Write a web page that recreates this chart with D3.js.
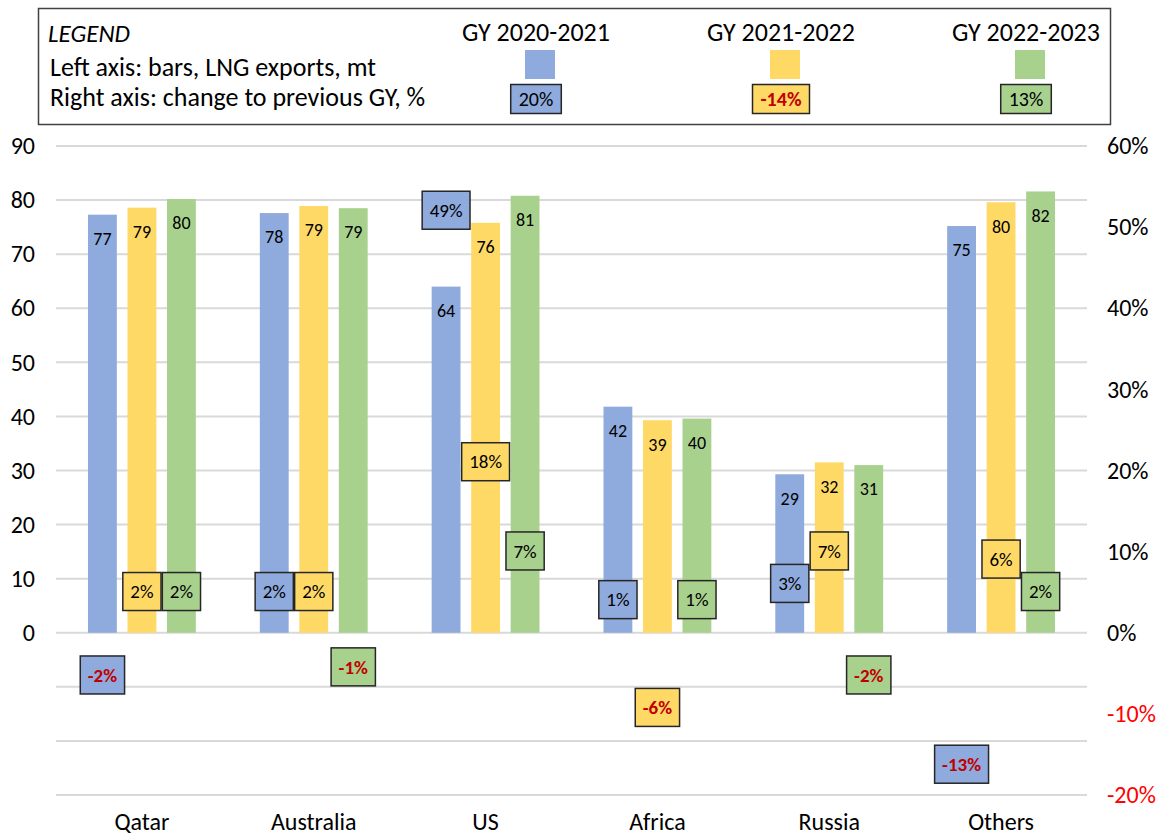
<!DOCTYPE html>
<html>
<head>
<meta charset="utf-8">
<script src="https://cdn.jsdelivr.net/npm/d3@7"></script>
<style>
  body { margin: 0; background: #fff; }
  svg { font-family: Carlito, Lato, "Open Sans", sans-serif; }
</style>
</head>
<body>
<div id="app"></div>
<script>
// categories and series
const categories = ['Qatar', 'Australia', 'US', 'Africa', 'Russia', 'Others'];
const series = ['GY 2020-2021', 'GY 2021-2022', 'GY 2022-2023'];
const colors = ['#8faadc', '#ffd966', '#a9d18e'];

// LNG exports, mt (left axis)
const exports2021 = [77.3, 77.6, 64.0, 41.8, 29.3, 75.2];
const exports2122 = [78.6, 78.9, 75.8, 39.3, 31.5, 79.6];
const exports2223 = [80.2, 78.5, 80.8, 39.6, 31.0, 81.6];

// change to previous GY, % (right axis)
const change2021 = [-2, 2, 49, 1, 3, -13];
const change2122 = [2, 2, 18, -6, 7, 6];
const change2223 = [2, -1, 7, 1, -2, 2];

// legend sample labels
const legendSample = [20, -14, 13];

const leftTicks = [0, 10, 20, 30, 40, 50, 60, 70, 80, 90];
const gridTicks = [-30, -20, -10, 0, 10, 20, 30, 40, 50, 60, 70, 80, 90];
const rightTicks = [-20, -10, 0, 10, 20, 30, 40, 50, 60];

const exportsBySeries = [exports2021, exports2122, exports2223];
const changeBySeries = [change2021, change2122, change2223];

const W = 1164, H = 836;
const plot = { left: 56, right: 1087, top: 146, bottom: 795 };

const svg = d3.select('#app')
    .append('svg')
    .attr('width', W)
    .attr('height', H);

const x0 = d3.scaleBand()
    .domain(categories)
    .range([plot.left, plot.right]);

const x1 = d3.scaleBand()
    .domain(series)
    .range([0, x0.bandwidth()])
    .paddingInner(0.27)
    .paddingOuter(0.81);

const yL = d3.scaleLinear().domain([-30, 90]).range([plot.bottom, plot.top]);
const yR = d3.scaleLinear().domain([-20, 60]).range([plot.bottom, plot.top]);

// gridlines
svg.append('g')
    .selectAll('line')
    .data(gridTicks)
    .join('line')
    .attr('x1', plot.left)
    .attr('x2', plot.right)
    .attr('y1', d => yL(d))
    .attr('y2', d => yL(d))
    .attr('stroke', '#d9d9d9')
    .attr('stroke-width', 2);

// left axis
const leftAxis = svg.append('g')
    .attr('transform', `translate(${plot.left - 21},0)`)
    .call(d3.axisLeft(yL).tickValues(leftTicks).tickSize(0).tickPadding(0));
leftAxis.select('.domain').remove();
leftAxis.selectAll('text')
    .attr('font-size', 24)
    .attr('font-family', 'Carlito, Lato, sans-serif')
    .attr('fill', '#000');

// right axis
const rightAxis = svg.append('g')
    .attr('transform', `translate(${plot.right + 20},0)`)
    .call(d3.axisRight(yR).tickValues(rightTicks).tickSize(0).tickPadding(0)
        .tickFormat(d => d + '%'));
rightAxis.select('.domain').remove();
rightAxis.selectAll('text')
    .attr('font-size', 24)
    .attr('font-family', 'Carlito, Lato, sans-serif')
    .attr('fill', d => d < 0 ? '#ff0000' : '#000');

// category labels
svg.append('g')
    .selectAll('text')
    .data(categories)
    .join('text')
    .attr('x', d => x0(d) + x0.bandwidth() / 2)
    .attr('y', 830)
    .attr('text-anchor', 'middle')
    .attr('font-size', 24)
    .text(d => d);

// flatten data
const rows = [];
categories.forEach((c, i) => {
    series.forEach((s, j) => {
        rows.push({
            cat: c,
            ser: s,
            color: colors[j],
            value: exportsBySeries[j][i],
            change: changeBySeries[j][i]
        });
    });
});

const bars = svg.append('g');

bars.selectAll('rect')
    .data(rows)
    .join('rect')
    .attr('x', d => x0(d.cat) + x1(d.ser))
    .attr('y', d => yL(d.value))
    .attr('width', x1.bandwidth())
    .attr('height', d => yL(0) - yL(d.value))
    .attr('fill', d => d.color);

bars.selectAll('text')
    .data(rows)
    .join('text')
    .attr('x', d => x0(d.cat) + x1(d.ser) + x1.bandwidth() / 2)
    .attr('y', d => yL(d.value) + 24)
    .attr('dy', '0.35em')
    .attr('text-anchor', 'middle')
    .attr('font-size', 18)
    .attr('fill', '#000')
    .text(d => Math.round(d.value));

// change labels in boxes
function boxLabel(g, cx, cy, value, color, h, fs, pad) {
    const t = g.append('text')
        .attr('x', cx)
        .attr('y', cy)
        .attr('dy', '0.35em')
        .attr('text-anchor', 'middle')
        .attr('font-size', fs)
        .attr('font-weight', value < 0 ? 'bold' : 'normal')
        .attr('fill', value < 0 ? '#c00000' : '#000')
        .text(value + '%');
    const w = t.node().getComputedTextLength() + pad;
    g.insert('rect', 'text')
        .attr('x', cx - w / 2)
        .attr('y', cy - h / 2)
        .attr('width', w)
        .attr('height', h)
        .attr('fill', color)
        .attr('stroke', '#262626')
        .attr('stroke-width', 1.5);
}

rows.forEach(d => {
    const g = svg.append('g');
    const cx = x0(d.cat) + x1(d.ser) + x1.bandwidth() / 2;
    const cy = yR(d.change) + (d.change < 0 ? 26 : -25);
    boxLabel(g, cx, cy, d.change, d.color, 38, 19, 15);
});

// legend
const legend = svg.append('g');
legend.append('rect')
    .attr('x', 38.5)
    .attr('y', 8.5)
    .attr('width', 1072)
    .attr('height', 116)
    .attr('fill', '#fff')
    .attr('stroke', '#404040')
    .attr('stroke-width', 1.5);

legend.append('text')
    .attr('x', 48).attr('y', 42)
    .attr('font-size', 25)
    .attr('font-style', 'italic')
    .text('LEGEND');
legend.append('text')
    .attr('x', 50).attr('y', 76)
    .attr('font-size', 26)
    .text('Left axis: bars, LNG exports, mt');
legend.append('text')
    .attr('x', 50).attr('y', 106)
    .attr('font-size', 26)
    .text('Right axis: change to previous GY, %');

const lx = d3.scalePoint().domain(series).range([536, 1026]);

series.forEach((s, j) => {
    const cx = lx(s);
    legend.append('text')
        .attr('x', cx).attr('y', 41)
        .attr('text-anchor', 'middle')
        .attr('font-size', 26)
        .text(s);
    legend.append('rect')
        .attr('x', cx - 15 + 4).attr('y', 50)
        .attr('width', 30).attr('height', 29)
        .attr('fill', colors[j]);
    const g = legend.append('g');
    boxLabel(g, cx, 99, legendSample[j], colors[j], 29, 20, 16);
});
</script>
</body>
</html>
